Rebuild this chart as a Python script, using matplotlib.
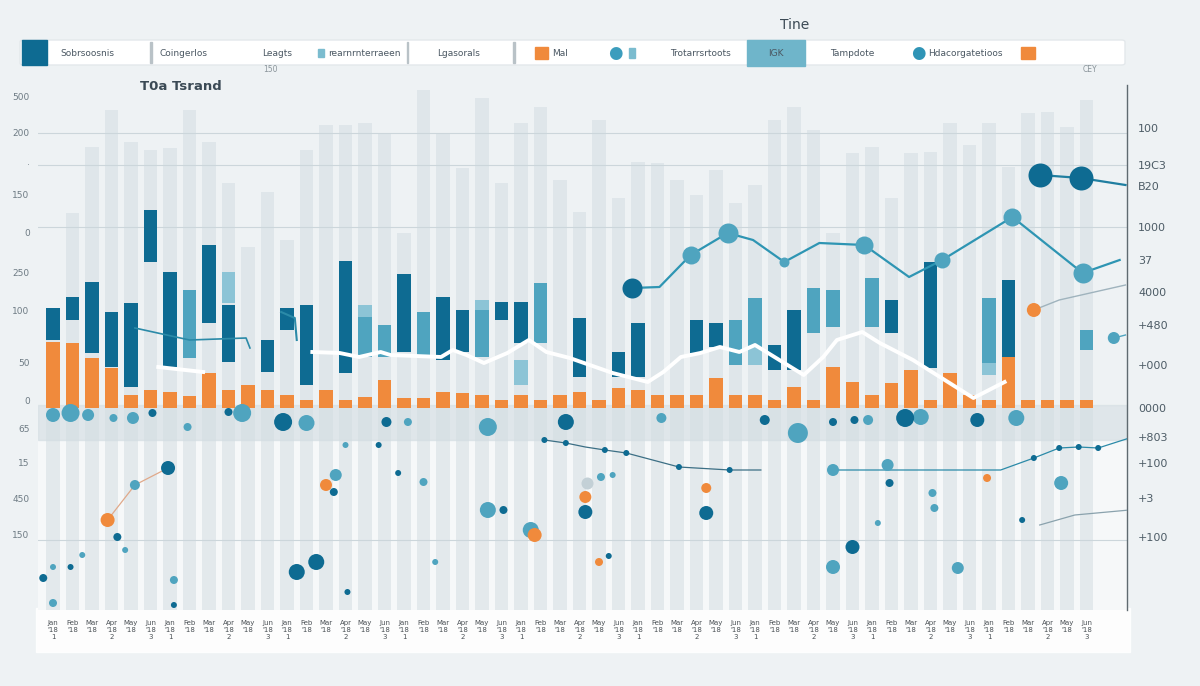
import numpy as np
import matplotlib.pyplot as plt
from matplotlib.patches import FancyBboxPatch, Rectangle

# ---- data (values in chart units, 0 = baseline) ----
n_cols = 54
pale_top = [95, 192, 258, 295, 263, 255, 257, 295, 263, 222, 158, 213, 165, 255, 280, 280, 282, 272,
            172, 315, 272, 237, 307, 222, 282, 298, 225, 193, 285, 207, 243, 242, 225, 210, 235, 202,
            220, 285, 298, 275, 172, 252, 258, 207, 252, 253, 282, 260, 282, 238, 292, 293, 278, 305]
nan = np.nan
blue_lo = [65, 85, 52, 38, 18, 143, 38, 47, 82, 43, nan, 33, 75, 20, nan, 32, 48, 48, 53, 48, 45, 53,
           48, 85, 62, 62, nan, 28, nan, 28, 28, nan, nan, 52, 58, 40, 58, 35, 35, 72, 78, nan, 78, 72,
           nan, 37, nan, nan, 42, 48, nan, nan, nan, 55]
blue_hi = [97, 108, 123, 93, 102, 195, 133, 115, 160, 100, nan, 65, 97, 100, nan, 144, 88, 80, 131, 93,
           108, 95, 95, 103, 103, 122, nan, 87, nan, 53, 82, nan, nan, 85, 82, 85, 107, 60, 95, 117, 115,
           nan, 127, 105, nan, 143, nan, nan, 107, 125, nan, nan, nan, 75]
blue_kind = "dddddddtdd-ddd-dttdtddtddt-d-dd--ddttddtt-td-d--td---t"
orange_h = [63, 62, 47, 37, 10, 15, 13, 9, 32, 15, 20, 15, 10, 5, 15, 5, 8, 25, 7, 7, 13, 12, 10, 5,
            10, 5, 10, 13, 5, 17, 15, 10, 10, 10, 27, 10, 10, 5, 18, 5, 38, 23, 10, 22, 35, 5, 32, 10,
            5, 48, 5, 5, 5, 5]
light_cols = [9, 16, 22, 24, 36, 48]
light_lo = [102, 88, 95, 20, 40, 30]
light_hi = [133, 100, 105, 45, 58, 42]

white_x = [5.4, 7.7, nan, 13.3, 14.7, 15.7, 16.8, 17.3, 19.9, 20.5, 21.2, 22.1, 23.3, 24.4, 25.3, 26.5,
           28.7, 30.5, 31.3, 32.2, 33.2, 34.2, 35.2, 36.0, 38.5, 39.5, 40.2, 41.5, 42.4, 44.1, 47.2, 48.8]
white_y = [38, 33, nan, 53, 52, 48, 53, 50, 48, 55, 50, 42, 52, 65, 53, 47,
           32, 23, 33, 48, 52, 58, 53, 60, 30, 48, 65, 73, 62, 45, 7, 23]

trend_x = [29.7, 31.1, 32.7, 34.6, 35.9, 37.5, 39.3, 41.6, 43.9, 45.6, 49.2, 52.8, 54.7]
trend_y = [117, 118, 150, 172, 165, 143, 162, 160, 128, 145, 188, 132, 145]
trend_dot_x = [29.7, 32.7, 34.6, 37.5, 41.6, 45.6, 49.2, 52.8]
trend_dot_y = [117, 150, 172, 143, 160, 145, 188, 132]
trend_dot_r = [10, 9, 10, 5, 9, 8, 9, 10]
trend_dot_c = "dttttttt"

top_x = [50.6, 52.7, 55.0]
top_y = [230, 227, 220]
left_x = [4.2, 7.0, 9.9, 10.1]
left_y = [77, 65, 67, 57]
hook_x = [11.7, 12.4, 12.5]
hook_y = [93, 87, 65]

low1_x = [25.2, 26.3, 27.3, 28.3, 29.4, 32.1, 34.7, 36.3]
low1_y = [-35, -38, -42, -45, -48, -62, -65, -65]
low2_x = [39.9, 48.6, 50.3, 51.6, 52.6, 53.6, 55.2]
low2_y = [-65, -65, -53, -43, -42, -43, -33]
low3_x = [50.6, 52.4, 55.2]
low3_y = [-120, -110, -105]
low4_x = [2.8, 4.2, 5.9]
low4_y = [-115, -80, -63]

# scattered points, grouped by colour: x, y, radius (px)
dark_x = [5.1, 9.0, 11.8, 17.1, 26.3, 36.5, 40.0, 41.1, 43.7, 47.4, 5.9, 3.3, 0.9, -0.5, 6.2, 12.5,
          13.5, 16.7, 14.4, 17.7, 23.1, 27.3, 15.1, 28.5, 33.5, 42.9, 41.0, 49.7,
          25.2, 26.3, 28.3, 29.4, 32.1, 34.7, 50.3, 51.6, 52.6, 53.6]
dark_y = [-8, -7, -17, -17, -17, -15, -17, -15, -13, -15, -63, -132, -162, -173, -200, -167,
          -157, -40, -87, -68, -105, -107, -187, -151, -108, -78, -142, -115,
          -35, -38, -45, -48, -62, -65, -53, -43, -42, -43]
dark_r = [4, 4, 9, 5, 8, 5, 4, 4, 9, 7, 7, 4, 3, 4, 3, 8,
          8, 3, 4, 3, 4, 7, 3, 3, 7, 4, 7, 3,
          3, 3, 3, 3, 3, 3, 3, 3, 3, 3]
teal_x = [0, 0.9, 1.8, 3.1, 4.1, 9.7, 13.0, 18.2, 22.3, 31.2, 38.2, 41.8, 44.5, 49.4,
          6.9, 4.2, 3.7, 1.5, 0, 0, 6.2, 15.0, 14.5, 19.0, 22.3, 24.5, 28.1, 28.7, 19.6,
          40.0, 42.8, 45.1, 45.2, 42.3, 40.0, 46.4, 51.7, 54.4]
teal_y = [-10, -8, -10, -13, -13, -8, -18, -17, -22, -13, -28, -15, -12, -13,
          -22, -80, -145, -150, -162, -198, -175, -40, -70, -77, -105, -125, -72, -70, -157,
          -65, -60, -88, -103, -118, -162, -163, -78, 67]
teal_r = [7, 9, 6, 4, 6, 9, 8, 4, 9, 5, 10, 5, 8, 8,
          4, 5, 3, 3, 3, 4, 4, 3, 6, 4, 8, 8, 4, 3, 3,
          6, 6, 4, 4, 3, 7, 6, 7, 6]
orange_x = [2.8, 14.0, 24.7, 27.3, 28.0, 33.5, 47.9, 50.3]
orange_y = [-115, -80, -130, -92, -157, -83, -73, 95]
orange_r = [7, 6, 7, 6, 4, 5, 4, 7]
gray_x = [27.4]
gray_y = [-78]
gray_r = [6]

left_ticks = [308, 273, 240, 210, 173, 133, 95, 43, 4, -23, -57, -93, -130]
left_labels = ["500", "200", "\u00b7", "150", "0", "250", "100", "50", "0", "65", "15", "450", "150"]
right_ticks = [277, 240, 219, 178, 145, 113, 80, 40, -3, -32, -58, -93, -132]
right_labels = ["100", "19C3", "B20", "1000", "37", "4000", "+480", "+000", "0000", "+803", "+100",
                "+3", "+100"]
categories = ["Jan\n'18\n1", "Feb\n'18", "Mar\n'18", "Apr\n'18\n2", "May\n'18", "Jun\n'18\n3"] * 9

legend_items = ["Sobrsoosnis", "Coingerlos", "Leagts", "rearnrnterraeen", "Lgasorals", "Mal",
                "Trotarrsrtoots", "IGK", "Tampdote", "Hdacorgatetioos"]

DARK = "#0e6b92"
TEAL = "#4fa4bf"
LIGHT = "#8cc4d6"
ORANGE = "#f08a3c"
PALE = "#dce4e8"
cmap = {"d": DARK, "t": TEAL}

W, H = 1200, 686
fig = plt.figure(figsize=(12, 6.86), dpi=100, facecolor="#eef2f4")
ax = fig.add_axes([38 / W, 1 - 610 / H, (1127 - 38) / W, 525 / H])
ax.set_facecolor("#eef2f4")
x = np.arange(n_cols)
bw = 0.68

ax.axhspan(-205, 0, color="#f6f8f9", zorder=0)
ax.bar(x, [-205] * n_cols, width=bw, color="#e3e9ec", zorder=1)
ax.axhspan(-35, 0, color="#d3dde2", alpha=0.65, zorder=1.5)
ax.bar(x, pale_top, width=bw, color=PALE, alpha=0.8, zorder=2)
for yv in [272, 240, 178, -135]:
    ax.axhline(yv, color="#ccd6db", lw=0.8, zorder=2.5)

ax.bar(light_cols, np.subtract(light_hi, light_lo), bottom=light_lo, width=bw, color=LIGHT, zorder=3)
lo = np.array(blue_lo, float)
hi = np.array(blue_hi, float)
for i in range(n_cols):
    if blue_kind[i] == "-":
        continue
    ax.bar(i, hi[i] - lo[i], bottom=lo[i], width=bw, color=cmap[blue_kind[i]], zorder=3.5)
ax.bar(x, np.array(orange_h) + 3, bottom=-3, width=bw, color=ORANGE, zorder=4)

ax.plot(white_x, white_y, color="white", lw=2.8, zorder=5, solid_joinstyle="round")
ax.plot(left_x, left_y, color="#2b8aa8", lw=1.2, zorder=5)
ax.plot(hook_x, hook_y, color="#2b8aa8", lw=1.5, zorder=5)
ax.plot(trend_x, trend_y, color="#2e95b3", lw=1.6, zorder=5)
for xi, yi, r, c in zip(trend_dot_x, trend_dot_y, trend_dot_r, trend_dot_c):
    ax.scatter(xi, yi, s=(2 * r * 0.72) ** 2, color=cmap[c], zorder=6, lw=0)
ax.plot(top_x, top_y, color="#1f7ea0", lw=1.6, zorder=5)
ax.scatter(top_x[:2], top_y[:2], s=(24 * 0.72) ** 2, color=DARK, zorder=6, lw=0)
ax.plot([50.3, 51.6, 55.0], [95, 105, 120], color="#9fb3bd", lw=1, zorder=5)
ax.plot([54.4, 55.0], [67, 70], color=TEAL, lw=1, zorder=5)

for lx, ly, col in [(low1_x, low1_y, "#3c6f85"), (low2_x, low2_y, "#2b8aa8"),
                    (low3_x, low3_y, "#8aa2ad"), (low4_x, low4_y, "#e0a98a")]:
    ax.plot(lx, ly, color=col, lw=0.9, zorder=5)
for gx, gy, gr, col in [(gray_x, gray_y, gray_r, "#c3d0d6"), (teal_x, teal_y, teal_r, TEAL),
                        (orange_x, orange_y, orange_r, ORANGE), (dark_x, dark_y, dark_r, DARK)]:
    ax.scatter(gx, gy, s=(2 * np.array(gr) * 0.72) ** 2, color=col, zorder=6, lw=0)

ax.set_xlim((38 - 53) / 19.5, (1127 - 53) / 19.5)
ax.set_ylim(-205, 320)
for s in ["top", "left", "bottom"]:
    ax.spines[s].set_visible(False)
ax.spines["right"].set_color("#5f6a70")
ax.spines["right"].set_linewidth(1.0)
ax.set_yticks(left_ticks, left_labels)
ax.tick_params(axis="y", length=0, labelsize=6.5, labelcolor="#6e7b84", pad=6)
ax.set_xticks(x, categories)
ax.tick_params(axis="x", length=0, labelsize=5, labelcolor="#4a5055", pad=7)

ax2 = ax.twinx()
ax2.set_ylim(-205, 320)
ax2.set_yticks(right_ticks, right_labels)
ax2.tick_params(axis="y", length=0, labelsize=8, labelcolor="#4d5c66", pad=8)
for s in ax2.spines.values():
    s.set_visible(False)

# white strip behind category labels (drawn beneath the axes)
fig.patches.append(Rectangle((36 / W, 1 - 652 / H), (1130 - 36) / W, 44 / H,
                             transform=fig.transFigure, color="white", alpha=0.9, zorder=-1))

# header legend
fig.patches.append(FancyBboxPatch((20 / W, 1 - 65 / H), 1105 / W, 25 / H,
                                  boxstyle="round,pad=0,rounding_size=0.003",
                                  transform=fig.transFigure, fc="white", ec="#e3e8eb", zorder=1))
fig.patches.append(Rectangle((22 / W, 1 - 65 / H), 25 / W, 25 / H, transform=fig.transFigure,
                             color=DARK, zorder=2))
fig.patches.append(Rectangle((747 / W, 1 - 66 / H), 58 / W, 26 / H, transform=fig.transFigure,
                             color="#6fb5ca", zorder=2))
fig.patches.append(Rectangle((318 / W, 1 - 57 / H), 6 / W, 8 / H, transform=fig.transFigure,
                             color="#7bbccf", zorder=2))
fig.patches.append(Rectangle((535 / W, 1 - 59 / H), 13 / W, 12 / H, transform=fig.transFigure,
                             color=ORANGE, zorder=2))
fig.patches.append(Rectangle((629 / W, 1 - 58 / H), 6 / W, 10 / H, transform=fig.transFigure,
                             color="#7bbccf", zorder=2))
fig.patches.append(Rectangle((1021 / W, 1 - 59 / H), 14 / W, 12 / H, transform=fig.transFigure,
                             color=ORANGE, zorder=2))
for px, col in [(615, "#3c9dbd"), (918, "#2f94b6")]:
    fig.text(px / W, 1 - 53 / H, "\u25cf", color=col, fontsize=12, ha="center", va="center", zorder=3)
for sx in [150, 407, 513]:
    fig.patches.append(Rectangle((sx / W, 1 - 63 / H), 1.5 / W, 21 / H, transform=fig.transFigure,
                                 color="#b9c2c7", zorder=2))
label_pos = [60, 160, 262, 328, 437, 552, 670, 768, 830, 928]
for lbl, px in zip(legend_items, label_pos):
    fig.text(px / W, 1 - 53 / H, lbl, fontsize=6.5, color="#4a5762", ha="left", va="center", zorder=3)

fig.text(795 / W, 1 - 25 / H, "Tine", fontsize=10, color="#3b4a55", ha="center", va="center")
fig.text(140 / W, 1 - 87 / H, "T0a Tsrand", fontsize=9.5, color="#3b4a55", ha="left", va="center",
         fontweight="bold")
fig.text(270 / W, 1 - 70 / H, "150", fontsize=5.5, color="#8a949a", ha="center", va="center")
fig.text(1090 / W, 1 - 70 / H, "CEY", fontsize=5.5, color="#8a949a", ha="center", va="center")

fig.savefig("out.png", dpi=100, facecolor=fig.get_facecolor())
